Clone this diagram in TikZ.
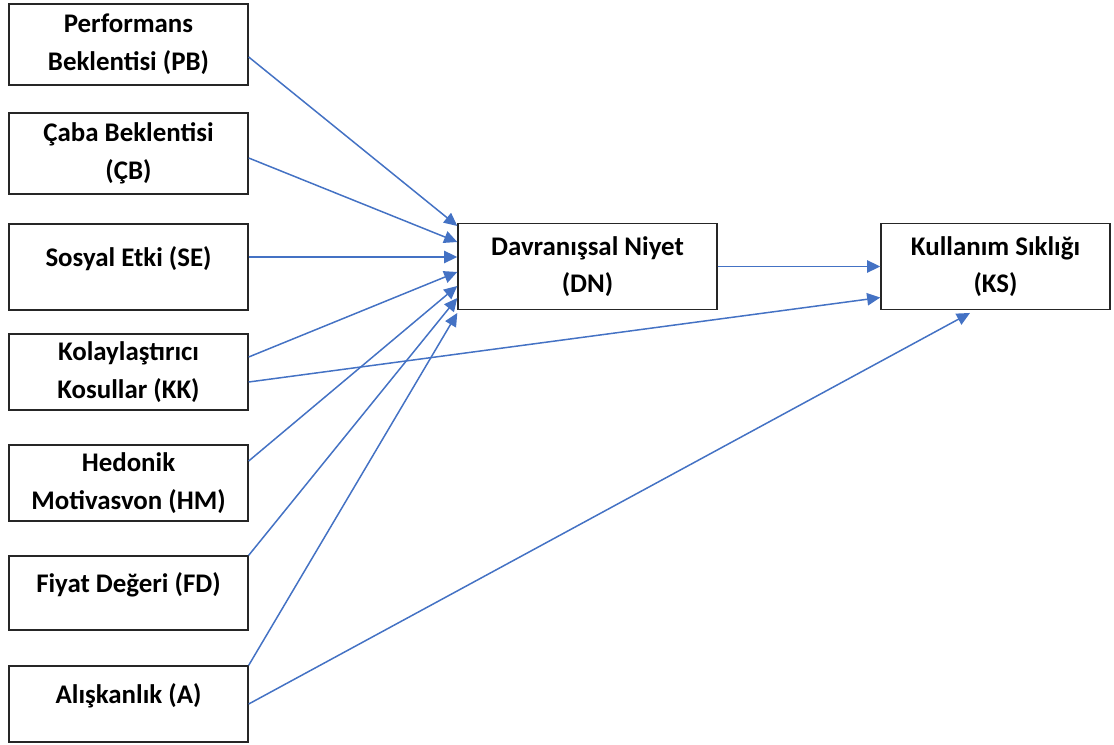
\documentclass[tikz,border=0pt]{standalone}
\usepackage{fontspec}
\setmainfont{Carlito}
\usetikzlibrary{arrows.meta, positioning, calc}
\definecolor{linkblue}{HTML}{4472C4}

\begin{document}
\begin{tikzpicture}[
        factor/.style={rectangle, draw=black!85, thick, minimum width=4.78cm, align=center, font=\fontsize{15.3}{21.5}\selectfont\bfseries, inner sep=2pt},
        target/.style={factor, minimum height=1.71cm},
        link/.style={-{Triangle[length=7.5pt, width=7pt]}, draw=linkblue, fill=linkblue, line width=0.85pt}
    ]
        \useasboundingbox (0,0) rectangle (22.28,-14.9);

        \node[factor, minimum height=1.62cm] (PB) at (2.57,-0.89) {Performans\\Beklentisi (PB)};
        \node[factor, minimum height=1.62cm] (CB) at (2.57,-3.07) {Çaba Beklentisi\\(ÇB)};
        \node[factor, minimum height=1.72cm] (SE) at (2.57,-5.34) {Sosyal Etki (SE)\\[-10pt] ~};
        \node[factor, minimum height=1.52cm] (KK) at (2.57,-7.44) {Kolaylaştırıcı\\Kosullar (KK)};
        \node[factor, minimum height=1.52cm] (HM) at (2.57,-9.66) {Hedonik\\Motivasvon (HM)};
        \node[factor, minimum height=1.48cm] (FD) at (2.57,-11.86) {Fiyat Değeri (FD)\\[-10pt] ~};
        \node[factor, minimum height=1.52cm] (A) at (2.57,-14.08) {Alışkanlık (A)\\[-10pt] ~};
        \node[target, minimum width=5.18cm] (DN) at (11.75,-5.33) {Davranışsal Niyet\\(DN)};
        \node[target, minimum width=4.58cm] (KS) at (19.91,-5.33) {Kullanım Sıklığı\\(KS)};

        \draw[link] ([yshift=-0.25cm]PB.east) -- ([yshift=0.81cm]DN.west);
        \draw[link] ([yshift=-0.09cm]CB.east) -- ([yshift=0.49cm]DN.west);
        \draw[link] ([yshift=0.2cm]SE.east) -- ([yshift=0.19cm]DN.west);
        \draw[link] ([yshift=0.3cm]KK.east) -- ([yshift=-0.11cm]DN.west);
        \draw[link] ([yshift=0.44cm]HM.east) -- ([yshift=-0.39cm]DN.west);
        \draw[link] (FD.north east) -- ([yshift=-0.63cm]DN.west);
        \draw[link] (A.north east) -- ([yshift=-0.93cm]DN.west);
        \draw[link] (DN.east) -- (KS.west);
        \draw[link] ([yshift=-0.2cm]KK.east) -- ([yshift=-0.62cm]KS.west);
        \draw[link] (A.east) -- ([xshift=-0.51cm, yshift=-0.06cm]KS.south);
    \end{tikzpicture}
\end{document}
